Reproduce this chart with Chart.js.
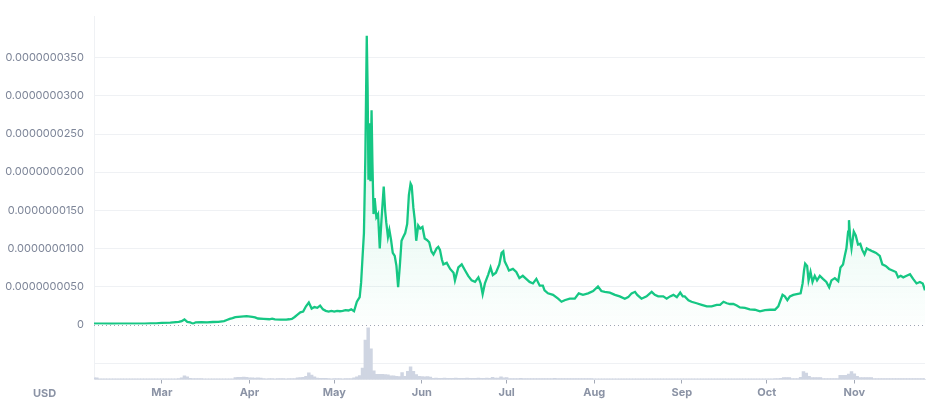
<!DOCTYPE html>
<html>
<head>
<meta charset="utf-8">
<script src="https://cdn.jsdelivr.net/npm/chart.js@4.4.1/dist/chart.umd.min.js"></script>
<style>
  body { margin: 0; background: #fff; }
  #wrap { position: relative; width: 933px; height: 403px; }
  #moeda {
    position: absolute; left: 33px; top: 386px;
    font: bold 11px Inter, sans-serif; color: #8b93a5;
  }
</style>
</head>
<body>
<div id="wrap">
  <canvas id="grafico" width="933" height="403"></canvas>
  <div id="moeda">USD</div>
</div>
<script>
// =====================
// Dados (dia 0 = 5 fev; preço em 1e-9 USD)
// =====================
const mesesDias = [24, 55, 85, 116, 146, 177, 208, 238, 269];
const mesesLabels = ["Mar", "Apr", "May", "Jun", "Jul", "Aug", "Sep", "Oct", "Nov"];
const ticksPreco = [0, 5, 10, 15, 20, 25, 30, 35];

const precoDias = [
  0, 3, 6, 9, 12, 15, 18, 20, 22, 24, 27, 30, 31, 32, 33, 34, 35, 36, 38, 40,
  42, 44, 46, 47, 48, 49, 50, 52, 54, 56, 57, 58, 60, 62, 63, 64, 66, 68, 69, 70,
  71, 72, 73, 74, 75, 76, 77, 78, 79, 80, 81, 82, 83, 84, 85, 86, 87, 88, 89, 90,
  91, 92, 93, 94, 94.5, 95, 95.5, 96, 96.5, 96.8, 97.1, 97.5, 97.8, 98.2, 98.5, 98.9, 99.3, 99.9, 100.5, 101.1,
  101.7, 102.5, 103, 103.4, 104, 104.5, 105.1, 105.7, 106.4, 107, 107.6, 108.2, 108.8, 109.4, 110.1, 110.8, 111.4, 112, 112.4, 113,
  113.5, 114, 114.7, 115.4, 116.2, 117, 117.8, 118.6, 119.4, 120.1, 121.2, 121.8, 122.4, 123.1, 123.6, 124.8, 126, 127.2, 127.7, 128.9,
  130.1, 131.3, 132.4, 133.6, 134.8, 136, 136.8, 137.5, 138.3, 139.5, 140.3, 141.1, 142.2, 143.4, 144.2, 144.8, 145.3, 146.1, 146.8, 148.2,
  149.4, 150.5, 151.7, 152.9, 154.1, 155.3, 156.5, 157.7, 158.8, 159.4, 160.6, 162.4, 164.2, 165.4, 166.5, 168.3, 170.1, 171.5, 173, 174.8,
  176.6, 178.3, 179.5, 180.7, 182.5, 184.3, 186, 187.8, 189, 190.2, 191.4, 192.2, 193.7, 195.5, 197.3, 198.4, 199.6, 201.4, 202.6, 203.8,
  205, 206.2, 207.4, 208.3, 209, 210.3, 211.4, 213.2, 215, 216.8, 218.5, 220.3, 221.5, 222.7, 223.9, 225, 226.2, 227.4, 228.5, 230.3,
  232, 233.8, 235.6, 237.4, 239.2, 240.9, 242.1, 242.7, 243.6, 244.4, 245.3, 246.2, 247.4, 248.6, 250, 250.7, 251.2, 251.6, 252.3, 252.8,
  253.5, 254.2, 255, 255.8, 256.8, 257.9, 259.1, 260.1, 260.9, 262.1, 263.3, 264.1, 265, 265.6, 266.2, 266.8, 267.1, 267.6, 268, 268.8,
  269.5, 270.3, 271.1, 271.8, 272.6, 273.4, 274.4, 275.5, 276.7, 278, 278.9, 280.1, 281.3, 282.5, 283.7, 284.5, 285.4, 286.3, 287.5, 288.7,
  289.8, 291, 292.2, 293.2, 294
];

const precos = [
  0.12, 0.12, 0.11, 0.12, 0.13, 0.13, 0.14, 0.15, 0.17, 0.22, 0.26, 0.35, 0.45, 0.68, 0.36, 0.3, 0.12, 0.3, 0.32, 0.3,
  0.34, 0.36, 0.45, 0.6, 0.75, 0.85, 0.98, 1.05, 1.1, 1.0, 0.95, 0.8, 0.75, 0.7, 0.78, 0.68, 0.65, 0.66, 0.7, 0.75,
  1.0, 1.3, 1.6, 1.7, 2.4, 2.9, 2.1, 2.3, 2.2, 2.5, 2.0, 1.8, 1.7, 1.8, 1.7, 1.8, 1.75, 1.8, 1.9, 1.85,
  2.0, 1.75, 3.0, 3.6, 5.5, 8.8, 12, 22, 37.9, 31.1, 19, 26.4, 18.8, 28.1, 21.3, 14.5, 16.6, 14.1, 14.5, 10,
  13.7, 18.1, 15, 13.4, 11.5, 12.4, 11.1, 9.4, 9.0, 7.7, 4.9, 7.7, 11, 11.5, 12, 13.2, 17, 18.5, 18.2, 15.3,
  13.7, 11, 13, 12.6, 12.8, 11.3, 11.1, 10.8, 9.6, 9.2, 10, 10.2, 9.8, 8.5, 7.9, 8.1, 7.3, 6.8, 5.8, 7.5,
  7.9, 7.1, 6.4, 5.8, 5.6, 6.2, 5.4, 4.0, 5.4, 6.6, 7.5, 6.5, 6.8, 7.9, 9.4, 9.6, 8.3, 7.7, 7.1, 7.3,
  6.9, 6.1, 6.4, 6.0, 5.6, 5.4, 6.0, 5.1, 5.1, 4.5, 4.1, 3.9, 3.4, 3.0, 3.2, 3.4, 3.4, 4.1, 3.9, 4.1,
  4.4, 5.0, 4.4, 4.3, 4.2, 3.9, 3.7, 3.4, 3.6, 4.1, 4.3, 3.9, 3.4, 3.7, 4.3, 3.9, 3.7, 3.7, 3.4, 3.7,
  3.9, 3.6, 4.2, 3.7, 3.7, 3.2, 3.0, 2.8, 2.6, 2.4, 2.4, 2.6, 2.6, 3.0, 2.8, 2.7, 2.7, 2.5, 2.25, 2.2,
  2.0, 1.95, 1.75, 1.9, 1.95, 1.95, 2.4, 3.0, 3.9, 3.7, 3.2, 3.7, 3.9, 4.0, 4.1, 5.4, 7.1, 8.0, 7.7, 5.8,
  6.9, 5.6, 6.4, 5.8, 6.4, 6.0, 5.6, 4.9, 5.8, 6.1, 5.7, 7.5, 7.9, 9.0, 10, 12.2, 13.7, 11.1, 10, 12.2,
  11.7, 10.5, 10.6, 9.8, 9.2, 10, 9.8, 9.6, 9.4, 9.0, 7.9, 7.7, 7.3, 7.1, 6.9, 6.2, 6.4, 6.2, 6.4, 6.6,
  6.0, 5.4, 5.6, 5.4, 4.5
];

// volume diário (dia 0..294), escala relativa
const volumes = [
  3, 3, 1.2, 1.0, 1.3, 1.2, 1.1, 1.2, 1.4, 1.2,
  1.0, 1.2, 1.3, 1.1, 1.2, 1.2, 1.0, 1.3, 1.2, 1.2,
  1.1, 1.3, 1.2, 1.4, 1.2, 1.3, 1.2, 1.4, 1.3, 1.2,
  1.5, 3, 6.5, 5, 2, 1.8, 1.8, 1.6, 1.6, 1.2,
  1.3, 1.2, 1.1, 1.2, 1.3, 1.2, 1.2, 1.4, 1.2, 1.3,
  3.5, 4, 4, 4.2, 3.8, 3, 3, 2.8, 3, 2.5,
  1.5, 1.4, 1.6, 1.5, 1.4, 1.5, 1.6, 1.5, 1.4, 1.5,
  1.6, 1.8, 3, 3.5, 4, 6, 12, 8, 5, 2.5,
  2, 2, 2, 1.5, 1.4, 1.6, 1.5, 1.5, 1.4, 1.6,
  1.5, 1.8, 3, 5, 7, 21, 72, 94, 56, 16,
  9.3, 9.5, 9.3, 9, 8.5, 6.5, 6.5, 6, 5.3, 12.8,
  6, 15, 23, 15, 8.8, 6, 5.3, 5, 5.3, 4.5,
  2.3, 2.5, 2.2, 2.3, 2.4, 2.3, 2.1, 2.3, 2.5, 2.3,
  2.2, 2.3, 2.4, 2.2, 2.3, 2.3, 2.5, 2.2, 2.3, 2.4,
  2.3, 4, 2.5, 2.5, 5, 3, 3.5, 1.8, 1.9, 1.7,
  1.8, 2.0, 1.8, 1.7, 1.8, 1.9, 1.8, 1.6, 1.8, 1.9,
  1.8, 1.7, 1.8, 2.0, 1.8, 1.8, 1.7, 1.9, 1.8, 1.8,
  1.9, 1.7, 1.8, 1.8, 1.9, 1.8, 1.7, 1.2, 1.3, 1.2,
  1.1, 1.2, 1.3, 1.2, 1.4, 1.2, 1.1, 1.2, 1.3, 1.2,
  1.2, 1.1, 1.3, 1.2, 1.2, 1.4, 1.2, 1.1, 1.2, 1.3,
  1.2, 1.2, 1.1, 1.2, 1.3, 1.2, 1.4, 1.2, 1.1, 1.2,
  1.3, 1.2, 1.2, 1.1, 1.3, 1.2, 1.2, 1.4, 1.2, 1.1,
  1.2, 1.3, 1.2, 1.2, 1.1, 1.3, 1.2, 1.2, 1.4, 1.2,
  1.1, 1.2, 1.3, 1.2, 1.2, 1.1, 1.3, 1.2, 1.2, 1.2,
  1.1, 1.5, 1.5, 2, 3.5, 3.5, 3.5, 1.5, 1.5, 1.5,
  4, 14.6, 11.8, 6, 3.5, 3.5, 3.5, 3.5, 1.8, 1.9,
  1.8, 1.7, 1.8, 1.8, 7.5, 7.5, 7.5, 10, 14.6, 10.5,
  6, 3.5, 3.5, 3.5, 3.5, 3.5, 1.8, 1.9, 1.8, 1.7,
  1.8, 1.8, 1.9, 1.8, 1.7, 1.8, 1.8, 1.9, 1.8, 1.7,
  1.8, 1.8, 1.9, 1.8, 1.8
];

// =====================
// Linha pontilhada no zero
// =====================
const linhaZero = {
  id: "linhaZero",
  beforeDatasetsDraw(chart) {
    const ctx = chart.ctx;
    const y = Math.round(chart.scales.y.getPixelForValue(0)) + 0.5;
    const { left, right } = chart.chartArea;
    ctx.save();
    ctx.setLineDash([1, 3]);
    ctx.strokeStyle = "#9ea5b3";
    ctx.lineWidth = 1;
    ctx.beginPath();
    ctx.moveTo(left, y);
    ctx.lineTo(right, y);
    ctx.stroke();
    ctx.restore();
  },
};

// =====================
// Gráfico
// =====================
const ctx = document.getElementById("grafico").getContext("2d");

new Chart(ctx, {
  type: "line",
  data: {
    datasets: [
      {
        label: "Preço",
        data: precoDias.map((d, i) => ({ x: d, y: precos[i] })),
        yAxisID: "y",
        borderColor: "#16c784",
        borderWidth: 2.3,
        pointRadius: 0,
        tension: 0,
        fill: "origin",
        backgroundColor: (c) => {
          const area = c.chart.chartArea;
          const esc = c.chart.scales.y;
          if (!area || !esc) return "rgba(22,199,132,0.08)";
          const g = c.chart.ctx.createLinearGradient(0, esc.top, 0, esc.bottom);
          g.addColorStop(0, "rgba(22,199,132,0.22)");
          g.addColorStop(1, "rgba(22,199,132,0.01)");
          return g;
        },
      },
      {
        type: "bar",
        label: "Volume",
        data: volumes.map((v, i) => ({ x: i, y: v })),
        yAxisID: "yv",
        backgroundColor: "#cfd5e2",
        barPercentage: 1,
        categoryPercentage: 1,
      },
    ],
  },
  options: {
    responsive: false,
    animation: false,
    layout: { padding: { top: 6, right: 8, left: 0, bottom: 0 } },
    plugins: { legend: { display: false }, tooltip: { enabled: false } },
    scales: {
      x: {
        type: "linear",
        min: 0,
        max: 294,
        offset: false,
        afterBuildTicks: (s) => { s.ticks = mesesDias.map((v) => ({ value: v })); },
        afterFit: (s) => { s.height = 23.5; },
        ticks: {
          callback: (v, i) => mesesLabels[i],
          color: "#8b93a5",
          font: { family: "Inter", size: 11, weight: "bold" },
          padding: 3,
          maxRotation: 0,
          autoSkip: false,
        },
        grid: { offset: false, drawOnChartArea: false, drawTicks: true, tickLength: 4, tickColor: "#a3a9b6" },
        border: { display: true, color: "#e6e9ee" },
      },
      // volume definido antes do preço: no empilhamento à esquerda fica embaixo
      yv: {
        position: "left",
        stack: "painel",
        stackWeight: 56.5,
        min: 0,
        max: 100,
        afterBuildTicks: (s) => { s.ticks = [{ value: 30 }]; },
        afterFit: (s) => { s.width = 94; },
        ticks: { display: false },
        grid: { drawTicks: false, color: "#eff1f4" },
        border: { display: true, color: "#eff1f4" },
      },
      y: {
        position: "left",
        stack: "painel",
        stackWeight: 317,
        min: 0,
        max: 40.4,
        afterBuildTicks: (s) => { s.ticks = ticksPreco.map((v) => ({ value: v })); },
        afterFit: (s) => { s.width = 94; },
        ticks: {
          callback: (v) => (v === 0 ? "0" : (v * 1e-9).toFixed(10)),
          color: "#7d8598",
          font: { family: "Inter", size: 11 },
          padding: 10,
        },
        grid: {
          drawTicks: false,
          color: (c) => (c.tick && c.tick.value === 0 ? "rgba(0,0,0,0)" : "#eff1f4"),
        },
        border: { display: true, color: "#eff1f4" },
      },
    },
  },
  plugins: [linhaZero],
});
</script>
</body>
</html>
